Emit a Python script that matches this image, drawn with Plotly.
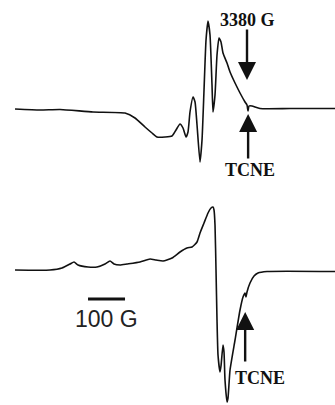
import plotly.graph_objects as go

# Top spectrum: magnetic field (G) and derivative intensity (arb. units, baseline = 0)
top_field = [2753.0, 2820.5, 2874.6, 2963.8, 3050.3, 3077.3, 3104.3, 3123.2, 3136.8, 3158.4,
             3177.3, 3188.1, 3198.9, 3207.0, 3215.1, 3220.5, 3225.9, 3234.1, 3239.5, 3244.9,
             3253.0, 3258.4, 3263.8, 3269.2, 3274.6, 3280.0, 3285.4, 3288.1, 3293.5, 3298.9,
             3304.3, 3309.7, 3315.1, 3325.9, 3334.1, 3347.6, 3361.1, 3374.6, 3380.0, 3382.7,
             3385.4, 3393.5, 3415.1, 3496.2, 3617.8]
top_int = [0, -1, -0.5, -3, -4, -9, -18, -24, -28, -28,
           -27, -21, -15, -19, -28, -23, -3, 12, 7, -16,
           -53, -31, 19, 69, 88, 74, 24, -3, 14, 54,
           71, 67, 56, 46, 37, 26, 16, 7, 4, -2,
           3, 3, 0.5, 0.5, 0.5]

# Bottom spectrum: magnetic field (G) and derivative intensity (arb. units, baseline = 0)
bot_field = [2753.0, 2847.6, 2880.0, 2901.6, 2912.4, 2923.2, 2950.3, 2974.6, 2996.2, 3009.7,
             3020.5, 3036.8, 3055.7, 3090.8, 3117.8, 3134.1, 3153.0, 3177.3, 3198.9, 3217.8,
             3231.4, 3244.9, 3253.0, 3263.8, 3274.6, 3282.7, 3288.1, 3290.8, 3293.5, 3296.2,
             3298.9, 3301.6, 3307.0, 3309.7, 3315.1, 3317.8, 3320.5, 3325.9, 3328.6, 3334.1,
             3347.6, 3361.1, 3369.2, 3374.6, 3377.3, 3380.0, 3388.1, 3398.9, 3409.7, 3434.1,
             3617.8]
bot_int = [0, 0, 2, 6, 8, 5, 3, 3, 6, 9,
           6, 5, 6, 8, 11, 10, 9, 12, 18, 22,
           23, 28, 37, 47, 57, 62, 63, 60, 45, 0,
           -50, -85, -102, -96, -75, -82, -110, -132, -128, -100,
           -70, -40, -27, -23, -27, -22, -13, -6, -3, -1.5,
           -1.5]

# Scale bar (G)
scale_start = 2950.3
scale_len = 100

line_style = dict(color="#111", width=1.6, shape="spline", smoothing=0.5)
fig = go.Figure()
fig.add_trace(go.Scatter(x=top_field, y=top_int, mode="lines", xaxis="x", yaxis="y",
                         line=line_style, hoverinfo="skip"))
fig.add_trace(go.Scatter(x=bot_field, y=bot_int, mode="lines", xaxis="x", yaxis="y2",
                         line=line_style, hoverinfo="skip"))

ann_font = dict(family="Liberation Serif, Times New Roman, serif", size=18, color="#111")
arrow_style = dict(showarrow=True, arrowhead=2, arrowsize=1.5, arrowwidth=2.4, arrowcolor="#111", text="")
anns = [
    dict(x=3380, y=89, xref="x", yref="y", text="<b>3380 G</b>", showarrow=False, font=ann_font),
    dict(x=3380, y=29, ax=3380, ay=81, xref="x", yref="y", axref="x", ayref="y", **arrow_style),
    dict(x=3383, y=-5, ax=3383, ay=-51, xref="x", yref="y", axref="x", ayref="y", **arrow_style),
    dict(x=3388, y=-61, xref="x", yref="y", text="<b>TCNE</b>", showarrow=False, font=ann_font),
    dict(x=3375, y=-42, ax=3375, ay=-93, xref="x", yref="y2", axref="x", ayref="y2", **arrow_style),
    dict(x=3415, y=-108, xref="x", yref="y2", text="<b>TCNE</b>", showarrow=False, font=ann_font),
    dict(x=scale_start + scale_len / 2, y=-49, xref="x", yref="y2", text="100 G", showarrow=False,
         font=dict(family="Liberation Sans, Arial, sans-serif", size=23, color="#222")),
]

fig.add_shape(type="line", x0=scale_start, x1=scale_start + scale_len, y0=-29, y1=-29,
              xref="x", yref="y2", line=dict(color="#111", width=3))

fig.update_layout(
    width=335, height=405, margin=dict(l=0, r=0, t=0, b=0),
    paper_bgcolor="white", plot_bgcolor="white", showlegend=False,
    annotations=anns,
    xaxis=dict(range=[2712.4, 3617.8], visible=False, fixedrange=True),
    yaxis=dict(domain=[205 / 405, 1], range=[-91, 109], visible=False, fixedrange=True),
    yaxis2=dict(domain=[0, 205 / 405], range=[-135, 70], visible=False, fixedrange=True),
)
fig.write_html("out.html", config={"displayModeBar": False})
